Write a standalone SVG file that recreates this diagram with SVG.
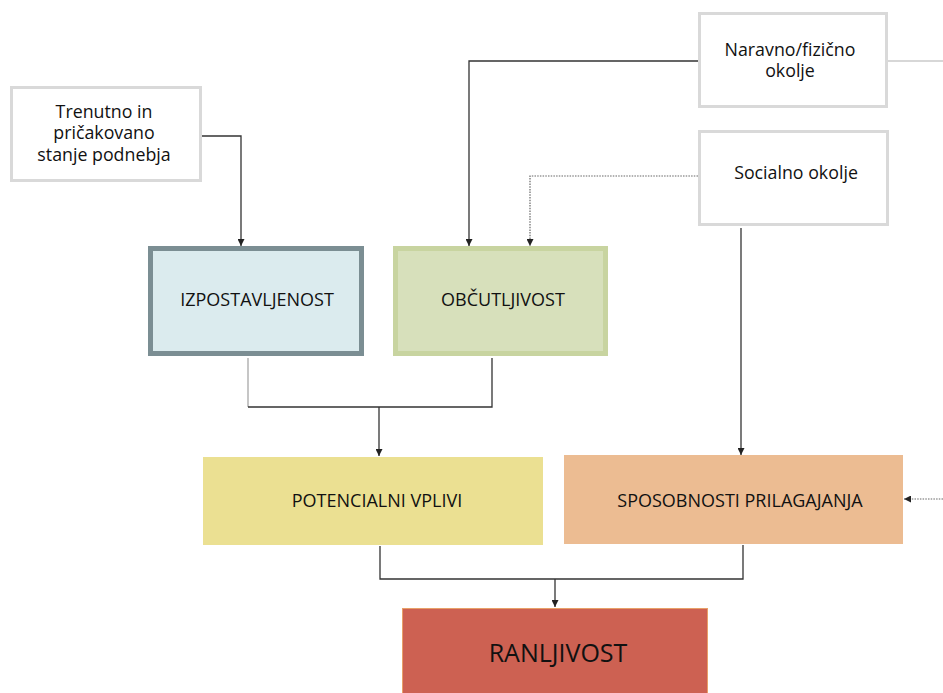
<svg xmlns="http://www.w3.org/2000/svg" width="943" height="693" viewBox="0 0 943 693">
<style>
  text { font-family: "Open Sans", "Liberation Sans", sans-serif; fill: #111111; text-anchor: middle; }
  .small { font-size: 17.8px; }
  .lbl { font-size: 18px; }
  .big { font-size: 25px; }
  .white { fill: #ffffff; stroke: #d9d9d9; stroke-width: 3; }
  .line { fill: none; stroke: #333333; stroke-width: 1.3; }
  .light { fill: none; stroke: #a8a8a8; stroke-width: 1.3; }
  .dot { fill: none; stroke: #666666; stroke-width: 1.2; stroke-dasharray: 1.5 1.2; }
  .grayline { fill: none; stroke: #b0b0b0; stroke-width: 1.2; }
</style>
<defs>
  <marker id="arr" viewBox="0 0 10 10" refX="10" refY="5" markerWidth="7" markerHeight="7" markerUnits="userSpaceOnUse" orient="auto">
    <path d="M0,0 L10,5 L0,10 z" fill="#222222"/>
  </marker>
</defs>
<rect width="943" height="693" fill="#ffffff"/>

<g id="connectors">
  <path class="line" d="M202,136 H241 V246" marker-end="url(#arr)"/>
  <path class="line" d="M698,61 H469 V246" marker-end="url(#arr)"/>
  <path class="grayline" d="M888,61 H943"/>
  <path class="dot" d="M698,176 H530 V246" marker-end="url(#arr)"/>
  <path class="line" d="M741,228 V455" marker-end="url(#arr)"/>
  <path class="light" d="M248,358 V407"/>
  <path class="line" d="M248,407 H492 V358"/>
  <path class="line" d="M379,407 V456" marker-end="url(#arr)"/>
  <path class="line" d="M380,546 V579 H743 V545"/>
  <path class="line" d="M555,579 V607" marker-end="url(#arr)"/>
  <path class="dot" d="M943,499 H904" marker-end="url(#arr)"/>
</g>

<g id="trenutno">
  <rect class="white" x="11.5" y="87.5" width="189" height="93"/>
  <text class="small" x="104" y="118">Trenutno in</text>
  <text class="small" x="104" y="139">pričakovano</text>
  <text class="small" x="104" y="161">stanje podnebja</text>
</g>

<g id="naravno">
  <rect class="white" x="699.5" y="13.5" width="187" height="93"/>
  <text class="small" x="790" y="56">Naravno/fizično</text>
  <text class="small" x="790" y="77">okolje</text>
</g>

<g id="socialno">
  <rect class="white" x="699.5" y="131.5" width="188" height="93"/>
  <text class="small" x="796" y="179">Socialno okolje</text>
</g>

<g id="izpostavljenost">
  <rect x="150.5" y="248.5" width="211" height="105" fill="#dbebee" stroke="#7b8e93" stroke-width="5"/>
  <text class="lbl" x="257" y="306">IZPOSTAVLJENOST</text>
</g>

<g id="obcutljivost">
  <rect x="395.5" y="248.5" width="210" height="105" fill="#d7e0bb" stroke="#c8d4a0" stroke-width="5"/>
  <text class="lbl" x="503" y="306">OBČUTLJIVOST</text>
</g>

<g id="potencialni">
  <rect x="203" y="457" width="340" height="88" fill="#ebe092"/>
  <text class="lbl" x="377" y="507">POTENCIALNI VPLIVI</text>
</g>

<g id="sposobnosti">
  <rect x="564" y="455" width="339" height="89" fill="#ecbc92"/>
  <text class="lbl" x="740" y="507">SPOSOBNOSTI PRILAGAJANJA</text>
</g>

<g id="ranljivost">
  <rect x="402.5" y="608.5" width="305" height="90" fill="#cd6152" stroke="#e8a068" stroke-width="1"/>
  <text class="big" x="558" y="662">RANLJIVOST</text>
</g>
</svg>
